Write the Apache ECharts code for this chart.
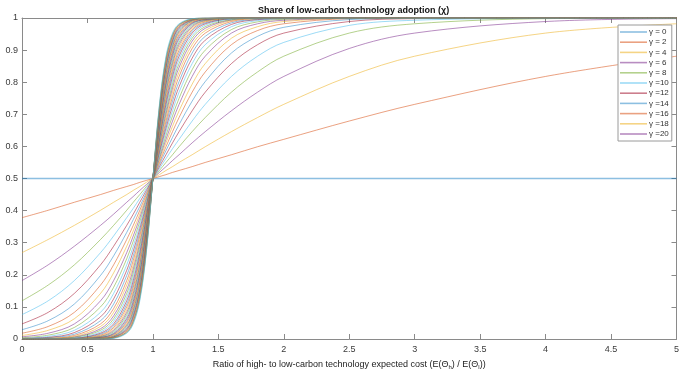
<!DOCTYPE html>
<html>
<head>
<meta charset="utf-8">
<title>Share of low-carbon technology adoption</title>
<script src="https://cdn.jsdelivr.net/npm/echarts@6/dist/echarts.min.js"></script>
<style>
html, body { margin: 0; padding: 0; background: #fff; }
#chart { width: 682px; height: 375px; }
</style>
</head>
<body>
<div id="chart"></div>
<script>
// ratio of high- to low-carbon expected cost (x positions of the read points)
var ratio = [0, 0.2, 0.4, 0.6, 0.7, 0.8, 0.85, 0.9, 0.95, 1, 1.05, 1.1, 1.15, 1.2, 1.3, 1.4, 1.6, 1.8, 2, 2.5, 3, 4, 5];

// gamma of each curve
var gamma = [0, 2, 4, 6, 8, 10, 12, 14, 16, 18, 20, 22, 24, 26, 28, 30, 32, 34, 36, 38, 40,
    42, 44, 46, 48, 50, 52, 54, 56, 58, 60, 62, 64, 66, 68, 70, 72, 74, 76, 78, 80];

// share of low-carbon adoption, one row per gamma, read at the ratio points
var share = [
    [0.5, 0.5, 0.5, 0.5, 0.5, 0.5, 0.5, 0.5, 0.5, 0.5, 0.5, 0.5, 0.5, 0.5, 0.5, 0.5, 0.5, 0.5, 0.5, 0.5, 0.5, 0.5, 0.5],
    [0.378, 0.401, 0.426, 0.450, 0.463, 0.475, 0.481, 0.488, 0.494, 0.5, 0.506, 0.512, 0.519, 0.525, 0.537, 0.550, 0.574, 0.599, 0.622, 0.679, 0.731, 0.818, 0.881],
    [0.269, 0.310, 0.354, 0.401, 0.426, 0.450, 0.463, 0.475, 0.488, 0.5, 0.512, 0.525, 0.537, 0.550, 0.574, 0.599, 0.646, 0.690, 0.731, 0.818, 0.881, 0.953, 0.982],
    [0.182, 0.231, 0.289, 0.354, 0.389, 0.426, 0.444, 0.463, 0.481, 0.5, 0.519, 0.537, 0.556, 0.574, 0.611, 0.646, 0.711, 0.769, 0.818, 0.905, 0.953, 0.989, 0.998],
    [0.119, 0.168, 0.231, 0.310, 0.354, 0.401, 0.426, 0.450, 0.475, 0.5, 0.525, 0.550, 0.574, 0.599, 0.646, 0.690, 0.769, 0.832, 0.881, 0.953, 0.982, 0.998, 1],
    [0.076, 0.119, 0.182, 0.269, 0.321, 0.378, 0.407, 0.438, 0.469, 0.5, 0.531, 0.562, 0.593, 0.622, 0.679, 0.731, 0.818, 0.881, 0.924, 0.977, 0.993, 0.999, 1],
    [0.047, 0.083, 0.142, 0.231, 0.289, 0.354, 0.389, 0.426, 0.463, 0.5, 0.537, 0.574, 0.611, 0.646, 0.711, 0.769, 0.858, 0.917, 0.953, 0.989, 0.998, 1, 1],
    [0.029, 0.057, 0.109, 0.198, 0.259, 0.332, 0.372, 0.413, 0.456, 0.5, 0.544, 0.587, 0.628, 0.668, 0.741, 0.802, 0.891, 0.943, 0.971, 0.995, 0.999, 1, 1],
    [0.018, 0.039, 0.083, 0.168, 0.231, 0.310, 0.354, 0.401, 0.450, 0.5, 0.550, 0.599, 0.646, 0.690, 0.769, 0.832, 0.917, 0.961, 0.982, 0.998, 1, 1, 1],
    [0.011, 0.027, 0.063, 0.142, 0.206, 0.289, 0.337, 0.389, 0.444, 0.5, 0.556, 0.611, 0.663, 0.711, 0.794, 0.858, 0.937, 0.973, 0.989, 0.999, 1, 1, 1],
    [0.007, 0.018, 0.047, 0.119, 0.182, 0.269, 0.321, 0.378, 0.438, 0.5, 0.562, 0.622, 0.679, 0.731, 0.818, 0.881, 0.953, 0.982, 0.993, 0.999, 1, 1, 1],
    [0.004, 0.012, 0.036, 0.100, 0.161, 0.250, 0.305, 0.366, 0.432, 0.5, 0.568, 0.634, 0.695, 0.750, 0.839, 0.900, 0.964, 0.988, 0.996, 1, 1, 1, 1],
    [0.002, 0.008, 0.027, 0.083, 0.142, 0.231, 0.289, 0.354, 0.426, 0.5, 0.574, 0.646, 0.711, 0.769, 0.858, 0.917, 0.973, 0.992, 0.998, 1, 1, 1, 1],
    [0.002, 0.005, 0.020, 0.069, 0.125, 0.214, 0.274, 0.343, 0.419, 0.5, 0.581, 0.657, 0.726, 0.786, 0.875, 0.931, 0.980, 0.995, 0.998, 1, 1, 1, 1],
    [0.001, 0.004, 0.015, 0.057, 0.109, 0.198, 0.259, 0.332, 0.413, 0.5, 0.587, 0.668, 0.741, 0.802, 0.891, 0.943, 0.985, 0.996, 0.999, 1, 1, 1, 1],
    [0.001, 0.002, 0.011, 0.047, 0.095, 0.182, 0.245, 0.321, 0.407, 0.5, 0.593, 0.679, 0.755, 0.818, 0.905, 0.953, 0.989, 0.998, 0.999, 1, 1, 1, 1],
    [0, 0.002, 0.008, 0.039, 0.083, 0.168, 0.231, 0.310, 0.401, 0.5, 0.599, 0.690, 0.769, 0.832, 0.917, 0.961, 0.992, 0.998, 1, 1, 1, 1, 1],
    [0, 0.001, 0.006, 0.032, 0.072, 0.154, 0.218, 0.299, 0.395, 0.5, 0.605, 0.701, 0.782, 0.846, 0.928, 0.968, 0.994, 0.999, 1, 1, 1, 1, 1],
    [0, 0.001, 0.005, 0.027, 0.063, 0.142, 0.206, 0.289, 0.389, 0.5, 0.611, 0.711, 0.794, 0.858, 0.937, 0.973, 0.995, 0.999, 1, 1, 1, 1, 1],
    [0, 0, 0.003, 0.022, 0.055, 0.130, 0.194, 0.279, 0.383, 0.5, 0.617, 0.721, 0.806, 0.870, 0.945, 0.978, 0.997, 1, 1, 1, 1, 1, 1],
    [0, 0, 0.002, 0.018, 0.047, 0.119, 0.182, 0.269, 0.378, 0.5, 0.622, 0.731, 0.818, 0.881, 0.953, 0.982, 0.998, 1, 1, 1, 1, 1, 1],
    [0, 0, 0.002, 0.015, 0.041, 0.109, 0.171, 0.259, 0.372, 0.5, 0.628, 0.741, 0.829, 0.891, 0.959, 0.985, 0.998, 1, 1, 1, 1, 1, 1],
    [0, 0, 0.001, 0.012, 0.036, 0.100, 0.161, 0.250, 0.366, 0.5, 0.634, 0.750, 0.839, 0.900, 0.964, 0.988, 0.999, 1, 1, 1, 1, 1, 1],
    [0, 0, 0.001, 0.010, 0.031, 0.091, 0.151, 0.240, 0.360, 0.5, 0.640, 0.760, 0.849, 0.909, 0.969, 0.990, 0.999, 1, 1, 1, 1, 1, 1],
    [0, 0, 0.001, 0.008, 0.027, 0.083, 0.142, 0.231, 0.354, 0.5, 0.646, 0.769, 0.858, 0.917, 0.973, 0.992, 0.999, 1, 1, 1, 1, 1, 1],
    [0, 0, 0.001, 0.007, 0.023, 0.076, 0.133, 0.223, 0.349, 0.5, 0.651, 0.777, 0.867, 0.924, 0.977, 0.993, 0.999, 1, 1, 1, 1, 1, 1],
    [0, 0, 0, 0.005, 0.020, 0.069, 0.125, 0.214, 0.343, 0.5, 0.657, 0.786, 0.875, 0.931, 0.980, 0.995, 1, 1, 1, 1, 1, 1, 1],
    [0, 0, 0, 0.005, 0.017, 0.063, 0.117, 0.206, 0.337, 0.5, 0.663, 0.794, 0.883, 0.937, 0.983, 0.995, 1, 1, 1, 1, 1, 1, 1],
    [0, 0, 0, 0.004, 0.015, 0.057, 0.109, 0.198, 0.332, 0.5, 0.668, 0.802, 0.891, 0.943, 0.985, 0.996, 1, 1, 1, 1, 1, 1, 1],
    [0, 0, 0, 0.003, 0.013, 0.052, 0.102, 0.190, 0.326, 0.5, 0.674, 0.810, 0.898, 0.948, 0.987, 0.997, 1, 1, 1, 1, 1, 1, 1],
    [0, 0, 0, 0.002, 0.011, 0.047, 0.095, 0.182, 0.321, 0.5, 0.679, 0.818, 0.905, 0.953, 0.989, 0.998, 1, 1, 1, 1, 1, 1, 1],
    [0, 0, 0, 0.002, 0.009, 0.043, 0.089, 0.175, 0.315, 0.5, 0.685, 0.825, 0.911, 0.957, 0.991, 0.998, 1, 1, 1, 1, 1, 1, 1],
    [0, 0, 0, 0.002, 0.008, 0.039, 0.083, 0.168, 0.310, 0.5, 0.690, 0.832, 0.917, 0.961, 0.992, 0.998, 1, 1, 1, 1, 1, 1, 1],
    [0, 0, 0, 0.001, 0.007, 0.036, 0.078, 0.161, 0.305, 0.5, 0.695, 0.839, 0.922, 0.964, 0.993, 0.999, 1, 1, 1, 1, 1, 1, 1],
    [0, 0, 0, 0.001, 0.006, 0.032, 0.072, 0.154, 0.299, 0.5, 0.701, 0.846, 0.928, 0.968, 0.994, 0.999, 1, 1, 1, 1, 1, 1, 1],
    [0, 0, 0, 0.001, 0.005, 0.029, 0.068, 0.148, 0.294, 0.5, 0.706, 0.852, 0.932, 0.971, 0.995, 0.999, 1, 1, 1, 1, 1, 1, 1],
    [0, 0, 0, 0.001, 0.005, 0.027, 0.063, 0.142, 0.289, 0.5, 0.711, 0.858, 0.937, 0.973, 0.995, 0.999, 1, 1, 1, 1, 1, 1, 1],
    [0, 0, 0, 0.001, 0.004, 0.024, 0.059, 0.136, 0.284, 0.5, 0.716, 0.864, 0.941, 0.976, 0.996, 0.999, 1, 1, 1, 1, 1, 1, 1],
    [0, 0, 0, 0, 0.003, 0.022, 0.055, 0.130, 0.279, 0.5, 0.721, 0.870, 0.945, 0.978, 0.997, 1, 1, 1, 1, 1, 1, 1, 1],
    [0, 0, 0, 0, 0.003, 0.020, 0.051, 0.125, 0.274, 0.5, 0.726, 0.875, 0.949, 0.980, 0.997, 1, 1, 1, 1, 1, 1, 1, 1],
    [0, 0, 0, 0, 0.002, 0.018, 0.047, 0.119, 0.269, 0.5, 0.731, 0.881, 0.953, 0.982, 0.998, 1, 1, 1, 1, 1, 1, 1, 1]
];

// only the first curves are listed in the legend
var legendGamma = [0, 2, 4, 6, 8, 10, 12, 14, 16, 18, 20];

// matlab line colours, a bit see-through
var colors = [
    'rgba(0,114,189,0.45)', 'rgba(217,83,25,0.55)', 'rgba(237,177,32,0.55)',
    'rgba(126,47,142,0.55)', 'rgba(119,172,48,0.55)', 'rgba(77,190,238,0.55)',
    'rgba(162,20,47,0.55)'
];

function gammaName(g) {
    return g < 10 ? '\u03b3 = ' + g : '\u03b3 =' + g;
}

var mychart = echarts.init(document.getElementById('chart'));

var se = gamma.map(function (g, i) {
    return {
        name: gammaName(g),
        type: 'line',
        data: ratio.map(function (x, j) { return [x, share[i][j]]; }),
        showSymbol: false,
        smooth: 0.35,
        lineStyle: { width: g == 0 ? 1.6 : 1 },
        emphasis: { disabled: true },
        silent: true
    };
});

var axisGrey = '#8a8a8a';
var labelFont = { fontFamily: 'Liberation Sans, Arial, sans-serif', fontSize: 9, color: '#3a3a3a' };

var option = {
    animation: false,
    color: colors,
    title: {
        text: 'Share of low-carbon technology adoption (\u03c7)',
        left: 253,
        top: 1,
        textStyle: { fontFamily: 'Liberation Sans, Arial, sans-serif', fontSize: 9, fontWeight: 'bold', color: '#111' }
    },
    legend: {
        data: legendGamma.map(gammaName),
        orient: 'vertical',
        left: 618,
        top: 25,
        padding: [3, 3, 3, 2],
        itemGap: 2.2,
        itemWidth: 27,
        itemHeight: 1.6,
        icon: 'rect',
        backgroundColor: '#fff',
        borderColor: '#9a9a9a',
        borderWidth: 1,
        borderRadius: 0,
        textStyle: { fontFamily: 'Liberation Sans, Arial, sans-serif', fontSize: 8, color: '#333', padding: [0, 0, 0, -3] },
        selectedMode: false
    },
    grid: {
        left: 22,
        right: 4,
        top: 18,
        bottom: 30
    },
    xAxis: [
        {
            type: 'value',
            min: 0,
            max: 5,
            interval: 0.5,
            position: 'bottom',
            name: 'Ratio of high- to low-carbon technology expected cost (E(\u0398{s|h}) / E(\u0398{s|l}))',
            nameLocation: 'middle',
            nameGap: 20,
            nameTextStyle: {
                fontFamily: 'Liberation Sans, Arial, sans-serif', fontSize: 9, color: '#222',
                rich: { s: { fontSize: 6, color: '#222', padding: [5, 0, 0, 0] } }
            },
            axisLine: { onZero: false, lineStyle: { color: axisGrey, width: 1 } },
            axisTick: { inside: true, length: 5, lineStyle: { color: axisGrey } },
            axisLabel: Object.assign({ margin: 6 }, labelFont),
            splitLine: { show: false }
        },
        {
            type: 'value',
            min: 0,
            max: 5,
            interval: 0.5,
            position: 'top',
            axisLine: { onZero: false, lineStyle: { color: axisGrey, width: 1 } },
            axisTick: { inside: true, length: 5, lineStyle: { color: axisGrey } },
            axisLabel: { show: false },
            splitLine: { show: false }
        }
    ],
    yAxis: [
        {
            type: 'value',
            min: 0,
            max: 1,
            interval: 0.1,
            position: 'left',
            axisLine: { show: true, onZero: false, lineStyle: { color: axisGrey, width: 1 } },
            axisTick: { show: true, inside: true, length: 5, lineStyle: { color: axisGrey } },
            axisLabel: Object.assign({ margin: 4 }, labelFont),
            splitLine: { show: false }
        },
        {
            type: 'value',
            min: 0,
            max: 1,
            interval: 0.1,
            position: 'right',
            axisLine: { show: true, onZero: false, lineStyle: { color: axisGrey, width: 1 } },
            axisTick: { show: true, inside: true, length: 5, lineStyle: { color: axisGrey } },
            axisLabel: { show: false },
            splitLine: { show: false }
        }
    ],
    series: se
};
mychart.setOption(option);
</script>
</body>
</html>
